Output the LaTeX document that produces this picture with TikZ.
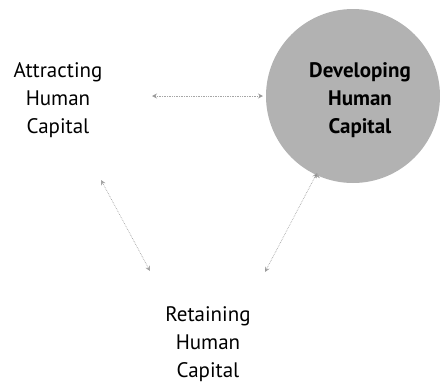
\documentclass[tikz,border=0pt]{standalone}
\usepackage{fontspec}
\setmainfont{PT Sans}
\usetikzlibrary{arrows.meta, positioning}

\begin{document}
\begin{tikzpicture}[x=1pt, y=-1pt,
    >={Stealth[length=5pt,width=5pt]},
    every node/.style={font=\fontsize{21}{28}\selectfont, align=center},
    link/.style={<->, densely dotted, draw=black!35, line width=0.7pt},
    spot/.style={circle, fill=black!30, minimum size=174pt, inner sep=0pt}]

    \useasboundingbox (0,0) rectangle (440,384);

    \node[spot]           (dev_c) at (353,96)  {};
    \node                 (attr)  at (58,100)  {Attracting\\Human\\Capital};
    \node[font=\fontsize{21}{28}\selectfont\bfseries]
                          (dev)   at (360,100) {Developing\\Human\\Capital};
    \node                 (ret)   at (208,344) {Retaining\\Human\\Capital};

    % arrow ends
    \coordinate (t_l) at (152,96);
    \coordinate (t_r) at (263,96);
    \coordinate (l_t) at (101,180);
    \coordinate (l_b) at (150,271);
    \coordinate (r_t) at (317,173);
    \coordinate (r_b) at (265,272);

    \path[link]
    (t_l) edge (t_r)
    (l_t) edge (l_b)
    (r_t) edge (r_b)
    ;
\end{tikzpicture}
\end{document}
